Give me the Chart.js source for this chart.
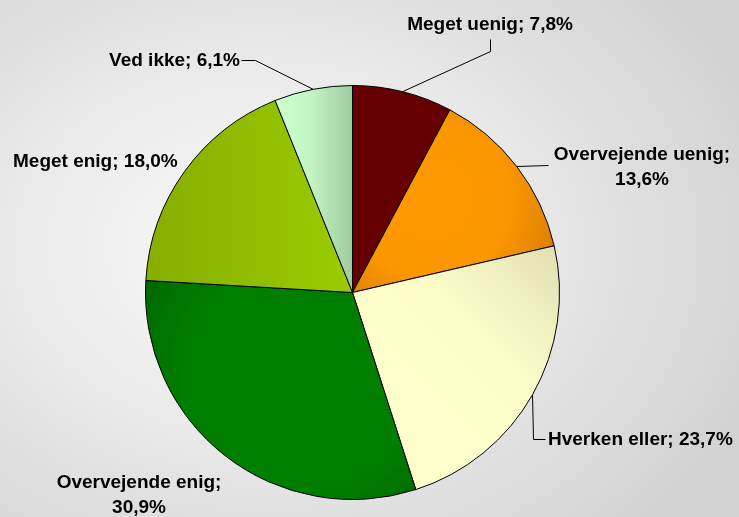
<!DOCTYPE html>
<html><head><meta charset="utf-8">
<script src="https://cdn.jsdelivr.net/npm/chart.js@4/dist/chart.umd.min.js"></script>
<style>
html,body{margin:0;padding:0;background:#d4d4d4;}
#wrap{width:739px;height:517px;position:relative;
  background:radial-gradient(ellipse 70% 75% at 36% 48%, #fbfbfb 0%, #ededed 40%, #d3d3d3 100%);}
canvas{display:block;}
</style></head><body><div id="wrap"><canvas id="c" width="739" height="517"></canvas></div>
<script>
// ---- data ----
const categories = ['Meget uenig','Overvejende uenig','Hverken eller','Overvejende enig','Meget enig','Ved ikke'];
const shares = [7.8, 13.6, 23.7, 30.9, 18.0, 6.1];

// ---- styles ----
const FONT = 'bold 19px "Liberation Sans", Arial, sans-serif';
const labelLayout = [
  {split:false, x:490, y:30, align:'center', leader:[[490,51],[490,39]]},
  {split:true,  x:642, y:160, align:'center', leader:[[548,165]]},
  {split:false, x:548, y:445, align:'left', leader:[[533,439],[545,439]]},
  {split:true,  x:139, y:488, align:'center', leader:null},
  {split:false, x:13,  y:167, align:'left', leader:null},
  {split:false, x:240, y:66,  align:'right', leader:[[255,60],[241,60]]}
];

function geom(chart){
  const a = chart.chartArea;
  if(!a) return null;
  const cx=(a.left+a.right)/2, cy=(a.top+a.bottom)/2, r=Math.min(a.right-a.left,a.bottom-a.top)/2;
  return {cx,cy,r};
}
const flatColors=['#660000','#FF9900','#FFFFCC','#008000','#99CC00','#CCFFCC'];
function sliceFill(context){
  const i=context.dataIndex;
  const chart=context.chart, g=geom(chart), ctx=chart.ctx;
  if(!g || i===undefined) return flatColors[i||0];
  const {cx,cy,r}=g;
  let gr;
  switch(i){
    case 0: return '#660000';
    case 1:
      gr=ctx.createRadialGradient(cx+0.38*r,cy-0.45*r,0,cx+0.38*r,cy-0.45*r,0.7*r);
      gr.addColorStop(0,'#FF9900');gr.addColorStop(0.55,'#FA9600');gr.addColorStop(0.85,'#E08400');gr.addColorStop(1,'#C06000');
      return gr;
    case 2:
      gr=ctx.createLinearGradient(cx+0.3*r,cy+0.5*r,cx+1.0*r,cy-0.2*r);
      gr.addColorStop(0,'#FFFFCC');gr.addColorStop(0.45,'#FCFCC8');gr.addColorStop(1,'#E2DFB4');
      return gr;
    case 3:
      gr=ctx.createRadialGradient(cx-0.25*r,cy+0.4*r,0,cx-0.25*r,cy+0.4*r,0.95*r);
      gr.addColorStop(0,'#008000');gr.addColorStop(0.6,'#007E00');gr.addColorStop(1,'#006200');
      return gr;
    case 4:
      gr=ctx.createLinearGradient(cx-r,cy,cx,cy);
      gr.addColorStop(0,'#86AE00');gr.addColorStop(1,'#9ACC00');
      return gr;
    case 5:
      gr=ctx.createLinearGradient(cx-0.37*r,cy,cx,cy);
      gr.addColorStop(0,'#CCFFCC');gr.addColorStop(0.45,'#C4F4C4');gr.addColorStop(1,'#A0CCA0');
      return gr;
  }
  return flatColors[i];
}

function fmt(v){ return v.toFixed(1).replace('.',',') + '%'; }

const labelPlugin = {
  id:'pieLabels',
  afterDraw(chart){
    const ctx=chart.ctx;
    const meta=chart.getDatasetMeta(0);
    ctx.save();
    ctx.font=FONT;
    ctx.fillStyle='#000';
    ctx.strokeStyle='#000';
    ctx.lineWidth=1;
    meta.data.forEach((el,i)=>{
      const L=labelLayout[i];
      const p=el.getProps(['x','y','startAngle','endAngle','outerRadius'],true);
      if(L.leader){
        const mid=(p.startAngle+p.endAngle)/2;
        const sx=p.x+Math.cos(mid)*p.outerRadius, sy=p.y+Math.sin(mid)*p.outerRadius;
        ctx.beginPath();
        ctx.moveTo(sx,sy);
        L.leader.forEach(pt=>ctx.lineTo(pt[0]+0.5,pt[1]+0.5));
        ctx.stroke();
      }
      ctx.textAlign=L.align;
      ctx.textBaseline='alphabetic';
      const name=categories[i], val=fmt(shares[i]);
      if(L.split){
        ctx.fillText(name+';',L.x,L.y);
        ctx.fillText(val,L.x,L.y+25);
      } else {
        ctx.fillText(name+'; '+val,L.x,L.y);
      }
    });
    ctx.restore();
  }
};

new Chart(document.getElementById('c'),{
  type:'pie',
  data:{
    labels:categories,
    datasets:[{
      data:shares,
      backgroundColor:sliceFill,
      borderColor:'#000000',
      borderWidth:1,
      borderAlign:'center'
    }]
  },
  options:{
    responsive:false,
    animation:false,
    layout:{padding:{top:85,bottom:17,left:0,right:34}},
    plugins:{legend:{display:false},tooltip:{enabled:false}}
  },
  plugins:[labelPlugin]
});
</script>
</body></html>
